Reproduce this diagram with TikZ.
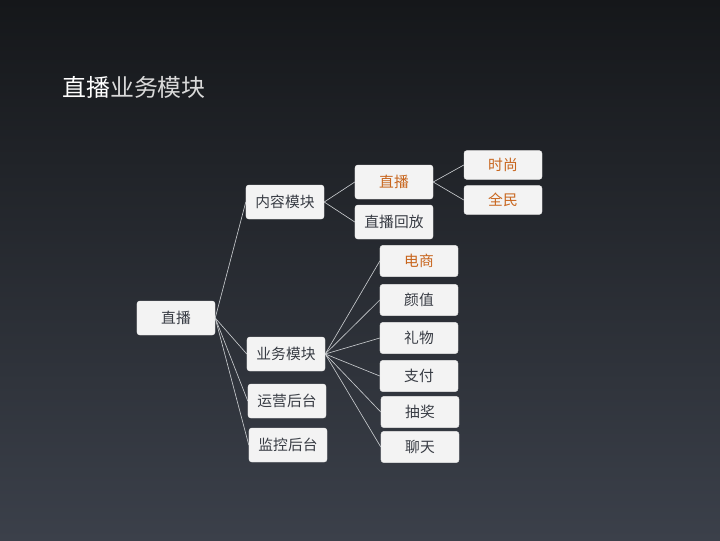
\documentclass[tikz,border=0pt]{standalone}
\usepackage{fontspec}
\setmainfont{Noto Sans CJK SC}
\newfontfamily\cjk{Noto Sans CJK SC}
\definecolor{bgtop}{HTML}{15171A}
\definecolor{bgbot}{HTML}{3B404A}
\definecolor{boxfill}{HTML}{F3F3F3}
\definecolor{txtgray}{HTML}{383C44}
\definecolor{txtorange}{HTML}{C8661E}
\definecolor{linegray}{HTML}{C9CCCF}
\usetikzlibrary{positioning}

\begin{document}
\begin{tikzpicture}[
  x=0.025cm, y=-0.025cm,
  font=\cjk\fontsize{10.5}{12}\selectfont,
  box/.style={draw=white!80!gray, line width=0.3pt, rounded corners=2pt, fill=boxfill,
              text=txtgray, align=center, minimum width=1.95cm, minimum height=0.85cm, inner sep=2pt},
  leaf/.style={box, minimum height=0.78cm},
  hot/.style={text=txtorange},
  link/.style={draw=linegray, line width=0.45pt},
]
% background
\shade[top color=bgtop, bottom color=bgbot] (0,0) rectangle (720,540);
\useasboundingbox (0,0) rectangle (720,540);
% title
\node[anchor=west, inner sep=0pt, text=white, font=\cjk\fontsize{17}{20}\selectfont] (title) at (62,87)
  {直播\textcolor{white!85!black}{业务模块}};
% root
\node[box] (root)   at (176,318) {直播};
% level 1
\node[box] (content) at (285,202) {内容模块};
\node[box] (biz)     at (286,354) {业务模块};
\node[box] (ops)     at (287,401) {运营后台};
\node[box] (mon)     at (288,445) {监控后台};
% content module
\node[box, hot] (live)   at (394,182) {直播};
\node[box] (replay)      at (394,222) {直播回放};
\node[leaf, minimum height=0.72cm, hot] (fashion) at (503,165) {时尚};
\node[leaf, minimum height=0.72cm, hot] (people)  at (503,200) {全民};
% business module
\node[leaf, hot] (shop)  at (419,261) {电商};
\node[leaf] (looks)      at (419,300) {颜值};
\node[leaf] (gift)       at (419,338) {礼物};
\node[leaf] (pay)        at (419,376) {支付};
\node[leaf] (lottery)    at (420,412) {抽奖};
\node[leaf] (chat)       at (420,447) {聊天};

\foreach \c in {content,biz,ops,mon}
  \draw[link] (root.east) -- (\c.west);
\foreach \c in {live,replay}
  \draw[link] (content.east) -- (\c.west);
\foreach \c in {fashion,people}
  \draw[link] (live.east) -- (\c.west);
\foreach \c in {shop,looks,gift,pay,lottery,chat}
  \draw[link] (biz.east) -- (\c.west);
\end{tikzpicture}
\end{document}
